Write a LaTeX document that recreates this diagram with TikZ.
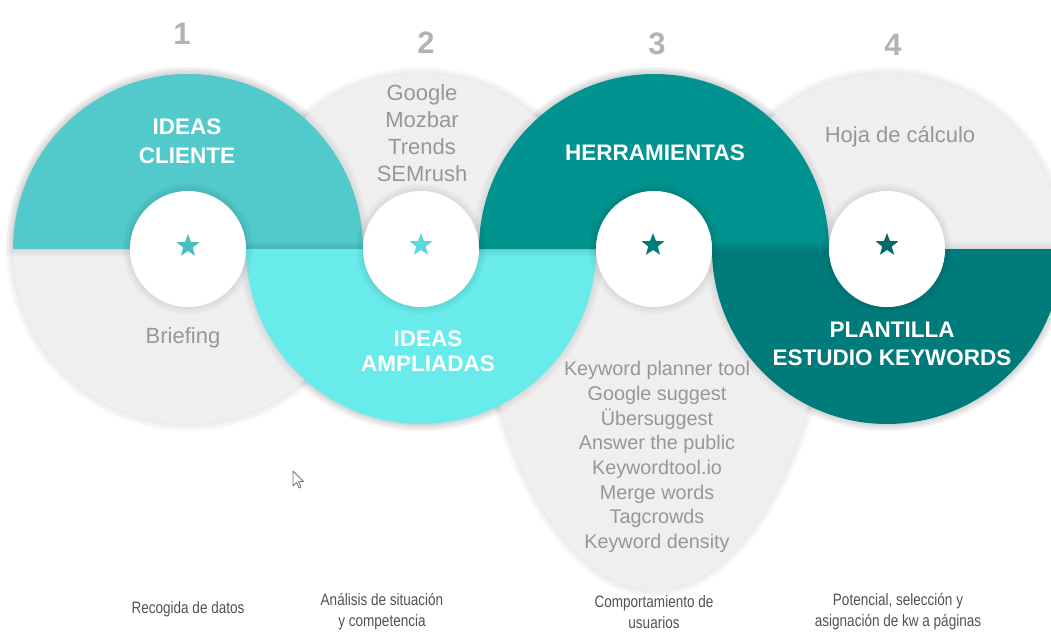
\documentclass[tikz,border=0pt]{standalone}
\usepackage{fontspec}
\setmainfont{Liberation Sans}
\newfontfamily\condfont[FakeStretch=0.82]{Liberation Sans}
\usetikzlibrary{shapes.geometric}

\definecolor{tealA}{HTML}{52C9CA}
\definecolor{cyanB}{HTML}{6AEBEB}
\definecolor{tealC}{HTML}{00938F}
\definecolor{tealD}{HTML}{007B7B}
\definecolor{starA}{HTML}{46BFC0}
\definecolor{starB}{HTML}{5CDADB}
\definecolor{starC}{HTML}{007C79}
\definecolor{starD}{HTML}{006B6B}
\definecolor{paleGray}{HTML}{EFEFEF}
\definecolor{numGray}{HTML}{B3B3B3}
\definecolor{toolGray}{HTML}{979797}
\definecolor{noteGray}{HTML}{525252}

% ring geometry: outer radius 175, hole radius 58, centres 233 apart on y = -249
\tikzset{
  disk/.style={insert path={(#1,-249) circle[radius=175]}},
  hole/.style={insert path={(#1,-249) circle[radius=58]}},
  topband/.style={insert path={({#1-175},-249) arc[start angle=180,end angle=0,radius=175]
      -- ({#1+58},-249) arc[start angle=0,end angle=180,radius=58] -- cycle}},
  botband/.style={insert path={({#1-175},-249) arc[start angle=180,end angle=360,radius=175]
      -- ({#1+58},-249) arc[start angle=360,end angle=180,radius=58] -- cycle}},
  drop/.style={insert path={(479,-249) arc[start angle=180,end angle=0,radius=175]
      .. controls (829,-430) and (748,-590) .. (654,-590)
      .. controls (560,-590) and (479,-430) .. (479,-249) -- cycle}},
  title/.style={text=white, align=center, font=\fontsize{22.5}{#1}\selectfont\bfseries},
  tool/.style={text=toolGray, align=center, font=\fontsize{22}{27}\selectfont},
  kwlist/.style={text=toolGray, align=center, font=\fontsize{19.8}{24.7}\selectfont},
  stepnum/.style={text=numGray, font=\fontsize{31}{31}\selectfont\bfseries},
  note/.style={text=noteGray, align=center, font=\condfont\fontsize{16.5}{21}\selectfont},
  starmark/.style={star, star points=5, star point ratio=2.4, minimum size=24pt, inner sep=0pt, draw=none},
}
% soft shadow built from a few faint wide strokes
\newcommand\softshadow[1]{\foreach \w in {3,6,9,12,15}{\draw[line width=\w pt, draw=black, opacity=0.016, #1];}}

\begin{document}
\begin{tikzpicture}[x=1pt,y=1pt]
\useasboundingbox (0,0) rectangle (1051,-637);
\fill[white] (0,0) rectangle (1051,-637);

% grey backgrounds
\softshadow{disk=188}
\softshadow{disk=421}
\softshadow{drop}
\softshadow{disk=887}
\fill[paleGray, disk=188];
\fill[paleGray, disk=421];
\fill[paleGray, drop];
\fill[paleGray, disk=887];

% tool list under the third ring
\node[kwlist] (kw) at (657,-457) {Keyword planner tool\\Google suggest\\Übersuggest\\Answer the public\\Keywordtool.io\\Merge words\\Tagcrowds\\Keyword density};

% coloured half rings
\softshadow{topband=188}
\fill[tealA, topband=188];
\softshadow{botband=421}
\fill[cyanB, botband=421];
\softshadow{topband=654}
\fill[tealC, topband=654];
\softshadow{botband=887}
\fill[tealD, botband=887];

% white hubs
\foreach \c in {188,421,654,887}{\softshadow{hole=\c}}
\foreach \c in {188,421,654,887}{\fill[white, hole=\c];}

% stars
\node[starmark, fill=starA] (s1) at (188,-246) {};
\node[starmark, fill=starB] (s2) at (421,-245) {};
\node[starmark, fill=starC] (s3) at (653,-245) {};
\node[starmark, fill=starD] (s4) at (887,-245) {};

% step numbers
\node[stepnum] (n1) at (182,-34) {1};
\node[stepnum] (n2) at (426,-43) {2};
\node[stepnum] (n3) at (657,-44) {3};
\node[stepnum] (n4) at (893,-45) {4};

% titles
\node[title=29] (t1) at (187,-141) {IDEAS\\CLIENTE};
\node[title=25] (t2) at (428,-351) {IDEAS\\AMPLIADAS};
\node[title=29] (t3) at (655,-153) {HERRAMIENTAS};
\node[title=28] (t4) at (892,-344) {PLANTILLA\\ESTUDIO KEYWORDS};

% grey labels
\node[tool] (b1) at (183,-338) {Briefing};
\node[tool] (g2) at (422,-133) {Google\\Mozbar\\Trends\\SEMrush};
\node[tool] (h4) at (900,-137) {Hoja de cálculo};

% notes along the bottom
\node[note] (d1) at (188,-609) {Recogida de datos};
\node[note] (d2) at (382,-612) {Análisis de situación\\y competencia};
\node[note] (d3) at (654,-612) {Comportamiento de\\usuarios};
\node[note] (d4) at (898,-612) {Potencial, selección y\\asignación de kw a páginas};

% mouse pointer
\draw[fill=white, draw=black!55, line width=0.8pt, line join=round]
  (293,-471) -- (293,-486) -- (296.5,-482.5) -- (299,-488) -- (301,-487)
  -- (298.6,-481.7) -- (303.5,-481.5) -- cycle;
\end{tikzpicture}
\end{document}
